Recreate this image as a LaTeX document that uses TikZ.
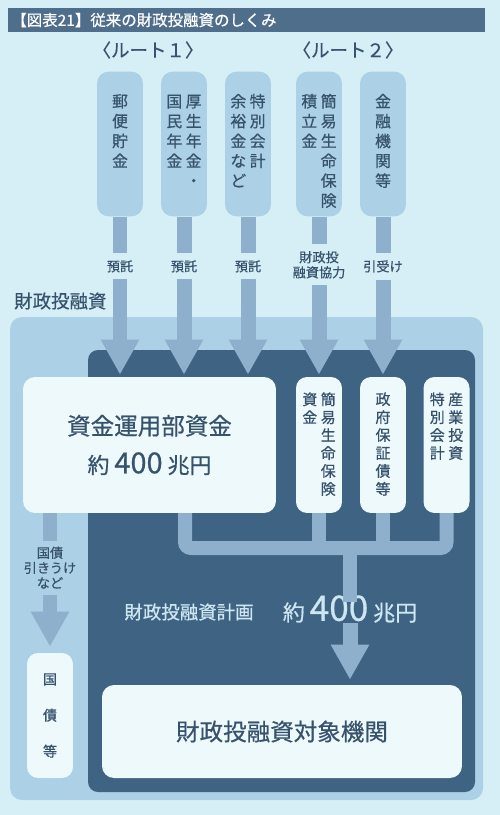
\documentclass[tikz,border=0pt]{standalone}
\usepackage{fontspec}
\setmainfont{Noto Sans CJK JP}[FakeBold=0.6]
\usepackage{tikz}
\usetikzlibrary{positioning,arrows.meta}

\definecolor{bgcol}{RGB}{214,239,246}
\definecolor{areacol}{RGB}{172,208,230}
\definecolor{darkcol}{RGB}{63,99,130}
\definecolor{headcol}{RGB}{78,110,140}
\definecolor{pipecol}{RGB}{142,176,205}
\definecolor{boxcol}{RGB}{238,249,252}
\definecolor{inkcol}{RGB}{55,82,108}
\definecolor{palecol}{RGB}{206,230,242}
\newcommand{\tcol}[1]{\begin{tabular}[t]{@{}c@{}}#1\end{tabular}}

\tikzset{
  pill/.style={fill=areacol,rounded corners=0.24cm,minimum width=0.92cm,minimum height=2.9cm,inner sep=0pt},
  wpill/.style={fill=boxcol,rounded corners=0.22cm,minimum width=0.92cm,minimum height=2.72cm,inner sep=0pt},
  pilltext/.style={anchor=north,inner sep=0pt,text=inkcol,font=\fontsize{9}{11.3}\selectfont},
  wtext/.style={anchor=north,inner sep=0pt,text=inkcol,font=\fontsize{8.5}{10.2}\selectfont},
  feed/.style={draw=pipecol,line width=0.3cm,-{Triangle[length=0.7cm,width=0.72cm]}},
  pipe/.style={draw=pipecol,line width=0.28cm},
  lbl/.style={fill=bgcol,text=inkcol,inner xsep=1pt,inner ysep=4pt,align=center,font=\fontsize{7.5}{8.6}\selectfont},
  route/.style={text=inkcol,font=\fontsize{10.5}{12}\selectfont},
}

\begin{document}
\begin{tikzpicture}[x=0.02cm,y=-0.02cm]
  \useasboundingbox[fill=bgcol] (0,0) rectangle (500,815);
  \fill[headcol] (8,8) rectangle (485,32);
  \node[anchor=west,inner sep=0pt,text=white,font=\fontsize{8.8}{10}\selectfont] (title) at (11,20) {【図表21】従来の財政投融資のしくみ};
  \node[route] (route1) at (148,50) {〈ルート１〉};
  \node[route] (route2) at (348,50) {〈ルート２〉};

  % sources
  \node[pill] (yubin) at (120,144) {}; \node[pilltext] at (120,93) {\tcol{郵\\便\\貯\\金}};
  \node[pill] (nenkin) at (184,144) {}; \node[pilltext] at (184,93) {\tcol{国\\民\\年\\金}\hspace{2pt}\tcol{厚\\生\\年\\金\\・}};
  \node[pill] (tokkai) at (248,144) {}; \node[pilltext] at (248,93) {\tcol{余\\裕\\金\\な\\ど}\hspace{2pt}\tcol{特\\別\\会\\計}};
  \node[pill] (kanpo) at (319,144) {}; \node[pilltext] at (319,93) {\tcol{積\\立\\金}\hspace{2pt}\tcol{簡\\易\\生\\命\\保\\険}};
  \node[pill] (kinyu) at (383,144) {}; \node[pilltext] at (383,93) {\tcol{金\\融\\機\\関\\等}};

  \fill[areacol,rounded corners=0.24cm] (10,317) rectangle (483,800);
  \node[anchor=west,text=inkcol,font=\fontsize{10.5}{12}\selectfont] (zaito) at (8,301) {財政投融資};
  \fill[darkcol,rounded corners=0.2cm] (88,350) rectangle (475,792);

  % pipes under the boxes
  \coordinate (j) at (350,548);
  \draw[pipe,rounded corners=0.12cm] (185,513) |- (446.5,548) -- (446.5,513);
  \draw[pipe] (319,513) -- (319,548); \draw[pipe] (383,513) -- (383,548);

  \node[fill=boxcol,rounded corners=0.24cm,minimum width=5.06cm,minimum height=2.72cm,align=center,text=inkcol,font=\fontsize{13.4}{22}\selectfont] (unyo) at (149.5,445) {資金運用部資金\\{\fontsize{12.5}{22}\selectfont 約 {\fontsize{16.5}{22}\selectfont 400} 兆円}};
  \node[wpill] (skanpo) at (319,445) {}; \node[wtext] at (319,392) {\tcol{資\\金}\hspace{2pt}\tcol{簡\\易\\生\\命\\保\\険}};
  \node[wpill] (seifu) at (383,445) {}; \node[wtext] at (383,392) {\tcol{政\\府\\保\\証\\債\\等}};
  \node[wpill] (sangyo) at (446.5,445) {}; \node[wtext] at (446.5,392) {\tcol{特\\別\\会\\計}\hspace{2pt}\tcol{産\\業\\投\\資}};

  \node[text=palecol,font=\fontsize{10.5}{12}\selectfont] (keikaku) at (189,612) {財政投融資計画};
  \node[inner sep=0pt,text=palecol,font=\fontsize{12.5}{14}\selectfont] (gaku) at (350,609) {約 {\fontsize{20}{24}\selectfont 400} 兆円};
  \draw[pipe] (j) -- ([yshift=-0.14cm]gaku.north);

  \node[fill=boxcol,rounded corners=0.22cm,minimum width=0.92cm,minimum height=2.5cm,align=center,text=inkcol,font=\fontsize{8}{20.5}\selectfont] (kokusai) at (50,715.5) {国\\債\\等};
  \node[fill=boxcol,rounded corners=0.24cm,minimum width=7.2cm,minimum height=1.86cm,text=inkcol,font=\fontsize{13.4}{16}\selectfont] (taisho) at (282,731.5) {財政投融資対象機関};

  % flows
  \draw[feed,shorten >=0.04cm] (yubin.south) -- (yubin.south |- unyo.north) node[lbl,pos=0.31] {預託};
  \draw[feed,shorten >=0.04cm] (nenkin.south) -- (nenkin.south |- unyo.north) node[lbl,pos=0.31] {預託};
  \draw[feed,shorten >=0.04cm] (tokkai.south) -- (tokkai.south |- unyo.north) node[lbl,pos=0.31] {預託};
  \draw[feed,shorten >=0.04cm] (kanpo.south) -- (skanpo.north) node[lbl,pos=0.3] {財政投\\融資協力};
  \draw[feed,shorten >=0.04cm] (kinyu.south) -- (seifu.north) node[lbl,pos=0.31] {引受け};
  \draw[feed,shorten >=0.12cm] (unyo.south -| kokusai.north) -- (kokusai.north) node[lbl,fill=areacol,inner ysep=3.4pt,pos=0.39] {国債\\引きうけ\\など};
  \draw[feed,shorten >=0.1cm] (gaku.south) -- (gaku.south |- taisho.north);
\end{tikzpicture}
\end{document}
